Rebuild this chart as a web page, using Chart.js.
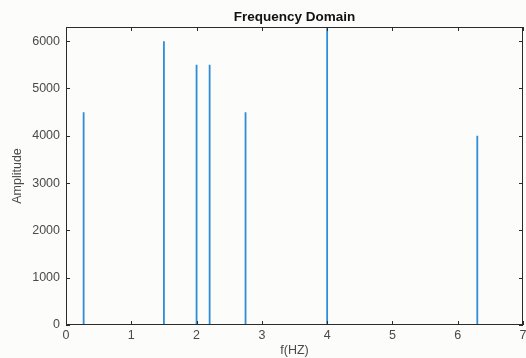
<!DOCTYPE html>
<html>
<head>
<meta charset="utf-8">
<script src="https://cdn.jsdelivr.net/npm/chart.js@4"></script>
<style>
  html, body { margin: 0; padding: 0; background: #fcfcfa; }
  #wrap { width: 526px; height: 358px; }
</style>
</head>
<body>
<div id="wrap"><canvas id="freqChart"></canvas></div>
<script>
const freqs = [0.27, 1.5, 2.0, 2.2, 2.75, 4.0, 6.3];
const amps = [4500, 6000, 5500, 5500, 4500, 6500, 4000];
const xTicks = [0, 1, 2, 3, 4, 5, 6, 7];
const yTicks = [0, 1000, 2000, 3000, 4000, 5000, 6000];

const lineColor = "#2f8dd8";
const axisColor = "#2b2b2b";
const labelColor = "#4a4a4a";
const fontFamily = "'Liberation Sans', Arial, sans-serif";

// stem plot: baseline at zero with a vertical line at each frequency
const points = [{ x: 0, y: 0 }];
freqs.forEach((f, i) => {
  points.push({ x: f, y: 0 });
  points.push({ x: f, y: amps[i] });
  if (i < freqs.length - 1) points.push({ x: f, y: 0 });
});

const boxPlugin = {
  id: "box",
  afterDraw(chart) {
    const { ctx, chartArea: a, scales } = chart;
    ctx.save();
    ctx.strokeStyle = axisColor;
    ctx.lineWidth = 1;
    ctx.strokeRect(a.left + 0.5, a.top + 0.5, a.right - a.left - 1, a.bottom - a.top - 1);
    ctx.beginPath();
    xTicks.forEach(v => {
      const px = Math.round(scales.x.getPixelForValue(v)) + 0.5;
      ctx.moveTo(px, a.bottom); ctx.lineTo(px, a.bottom - 4);
      ctx.moveTo(px, a.top); ctx.lineTo(px, a.top + 4);
    });
    yTicks.forEach(v => {
      const py = Math.round(scales.y.getPixelForValue(v)) + 0.5;
      ctx.moveTo(a.left, py); ctx.lineTo(a.left + 4, py);
      ctx.moveTo(a.right, py); ctx.lineTo(a.right - 4, py);
    });
    ctx.stroke();
    ctx.fillStyle = "#111";
    ctx.font = "bold 13.5px " + fontFamily;
    ctx.textAlign = "center";
    ctx.textBaseline = "middle";
    ctx.fillText("Frequency Domain", (a.left + a.right) / 2, 17);
    ctx.restore();
  }
};

new Chart(document.getElementById("freqChart"), {
  type: "line",
  data: {
    datasets: [{
      data: points,
      borderColor: lineColor,
      borderWidth: 1.8,
      pointRadius: 0,
      tension: 0,
      fill: false
    }]
  },
  options: {
    responsive: true,
    maintainAspectRatio: false,
    animation: false,
    layout: { padding: { left: 0, right: 3, top: 27, bottom: 0 } },
    plugins: { legend: { display: false }, tooltip: { enabled: false } },
    scales: {
      x: {
        type: "linear",
        min: 0,
        max: 7,
        afterBuildTicks: s => { s.ticks = xTicks.map(v => ({ value: v })); },
        afterFit: s => { s.height = 33; s.paddingLeft = 0; s.paddingRight = 0; },
        grid: { display: false, drawTicks: false },
        border: { display: false },
        ticks: {
          padding: 3,
          color: labelColor,
          callback: v => String(v),
          font: { family: fontFamily, size: 12.5 }
        },
        title: {
          display: true,
          text: "f(HZ)",
          color: labelColor,
          padding: { top: 0, bottom: 0 },
          font: { family: fontFamily, size: 12.5 }
        }
      },
      y: {
        min: 0,
        max: 6300,
        afterBuildTicks: s => { s.ticks = yTicks.map(v => ({ value: v })); },
        afterFit: s => { s.width = 66; s.paddingTop = 0; s.paddingBottom = 0; },
        grid: { display: false, drawTicks: false },
        border: { display: false },
        ticks: {
          padding: 6,
          color: labelColor,
          callback: v => String(v),
          font: { family: fontFamily, size: 12.5 }
        },
        title: {
          display: true,
          text: "Amplitude",
          color: labelColor,
          padding: { top: 10, bottom: 0 },
          font: { family: fontFamily, size: 12.5 }
        }
      }
    }
  },
  plugins: [boxPlugin]
});
</script>
</body>
</html>
